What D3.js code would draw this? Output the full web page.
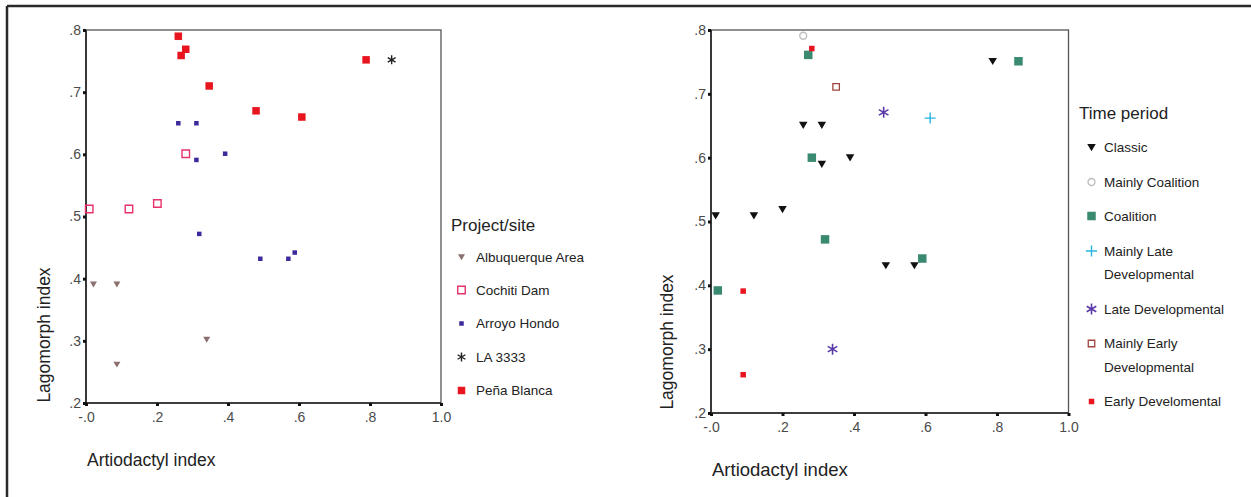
<!DOCTYPE html>
<html>
<head>
<meta charset="utf-8">
<script src="https://cdn.jsdelivr.net/npm/d3@7"></script>
<style>
  body { margin: 0; background: #fff; }
  svg { display: block; font-family: "Liberation Sans", Arial, sans-serif; }
</style>
</head>
<body>
<div id="chart"></div>
<script>
// ---- data: left panel (Project/site) ----
const siteNames = ['Albuquerque Area', 'Cochiti Dam', 'Arroyo Hondo', 'LA 3333', 'Peña Blanca'];
const albuquerque = [[0.021, 0.391], [0.087, 0.391], [0.340, 0.302], [0.087, 0.262]];
const cochiti = [[0.281, 0.601], [0.009, 0.512], [0.121, 0.512], [0.201, 0.521]];
const arroyoHondo = [[0.26, 0.65], [0.311, 0.65], [0.392, 0.601], [0.311, 0.591], [0.319, 0.472],
  [0.491, 0.432], [0.570, 0.432], [0.588, 0.442]];
const la3333 = [[0.861, 0.752]];
const penaBlanca = [[0.26, 0.79], [0.281, 0.769], [0.268, 0.759], [0.347, 0.710], [0.479, 0.670],
  [0.608, 0.660], [0.789, 0.752]];

// ---- data: right panel (Time period) ----
const periodNames = ['Classic', 'Mainly Coalition', 'Coalition', 'Mainly Late\nDevelopmental',
  'Late Developmental', 'Mainly Early\nDevelopmental', 'Early Develomental'];
const classic = [[0.788, 0.751], [0.258, 0.651], [0.310, 0.651], [0.389, 0.600], [0.310, 0.590],
  [0.013, 0.509], [0.120, 0.509], [0.200, 0.519], [0.489, 0.431], [0.569, 0.431]];
const mainlyCoalition = [[0.258, 0.791]];
const coalition = [[0.272, 0.761], [0.860, 0.751], [0.282, 0.600], [0.319, 0.472], [0.591, 0.442], [0.019, 0.392]];
const mainlyLateDev = [[0.613, 0.662]];
const lateDev = [[0.483, 0.671], [0.340, 0.300]];
const mainlyEarlyDev = [[0.350, 0.711]];
const earlyDev = [[0.282, 0.771], [0.090, 0.391], [0.090, 0.260]];

const xTicks = [0, 0.2, 0.4, 0.6, 0.8, 1.0];
const xTickLabels = ['-.0', '.2', '.4', '.6', '.8', '1.0'];
const yTicks = [0.2, 0.3, 0.4, 0.5, 0.6, 0.7, 0.8];
const yTickLabels = ['.2', '.3', '.4', '.5', '.6', '.7', '.8'];

// marker styles (kept apart from the values)
const siteStyle = [
  { shape: 'tri', size: 7, fill: '#8c6f6f', stroke: 'none' },
  { shape: 'square', size: 7.5, fill: 'none', stroke: '#e8326a', sw: 1.4 },
  { shape: 'square', size: 4.5, fill: '#3b2a9e', stroke: 'none' },
  { shape: 'asterisk', size: 9, fill: 'none', stroke: '#222', sw: 1.4 },
  { shape: 'square', size: 7.5, fill: '#e8141e', stroke: 'none' }
];
const periodStyle = [
  { shape: 'tri', size: 8.5, fill: '#111', stroke: 'none' },
  { shape: 'circle', size: 7, fill: 'none', stroke: '#bdbdbd', sw: 1.3 },
  { shape: 'square', size: 8.5, fill: '#3a8a72', stroke: 'none' },
  { shape: 'plus', size: 11, fill: 'none', stroke: '#28b4e0', sw: 1.4 },
  { shape: 'asterisk', size: 11, fill: 'none', stroke: '#5a3aa8', sw: 1.6 },
  { shape: 'square', size: 6.5, fill: 'none', stroke: '#a0463c', sw: 1.3 },
  { shape: 'square', size: 5.5, fill: '#e8141e', stroke: 'none' }
];

const W = 1251, H = 497;
const svg = d3.select('#chart').append('svg').attr('width', W).attr('height', H);

// outer frame (top + left edges only)
svg.append('line').attr('x1', 7).attr('x2', W).attr('y1', 6).attr('y2', 6)
  .attr('stroke', '#2a2a2a').attr('stroke-width', 2.5);
svg.append('line').attr('x1', 7).attr('x2', 7).attr('y1', 6).attr('y2', H)
  .attr('stroke', '#2a2a2a').attr('stroke-width', 2.5);

function markPath(st) {
  const s = st.size, h = s / 2;
  if (st.shape === 'square') return `M${-h},${-h}H${h}V${h}H${-h}Z`;
  if (st.shape === 'tri') return `M${-h},${-h * 0.8}H${h}L0,${h * 0.9}Z`;
  if (st.shape === 'circle') return d3.symbol(d3.symbolCircle, s * s * 0.785)();
  if (st.shape === 'plus') return `M${-h},0H${h}M0,${-h}V${h}`;
  if (st.shape === 'asterisk') {
    const a = h * 0.87, b = h * 0.5;
    return `M0,${-h}V${h}M${-a},${-b}L${a},${b}M${-a},${b}L${a},${-b}`;
  }
}

function drawMark(g, st, x, y) {
  g.append('path').attr('d', markPath(st))
    .attr('transform', `translate(${x},${y})`)
    .attr('fill', st.fill).attr('stroke', st.stroke)
    .attr('stroke-width', st.sw || 0);
}

function panel(cfg) {
  const x = d3.scaleLinear().domain([0, 1]).range([cfg.x0, cfg.x1]);
  const y = d3.scaleLinear().domain([0.2, 0.8]).range([cfg.y1, cfg.y0]);
  const g = svg.append('g');

  // plot frame
  g.append('rect').attr('x', cfg.x0).attr('y', cfg.y0)
    .attr('width', cfg.x1 - cfg.x0).attr('height', cfg.y1 - cfg.y0)
    .attr('fill', 'none').attr('stroke', '#555').attr('stroke-width', 1.3);
  g.append('line').attr('x1', cfg.x0).attr('x2', cfg.x0).attr('y1', cfg.y0).attr('y2', cfg.y1)
    .attr('stroke', '#222').attr('stroke-width', 1.6);
  g.append('line').attr('x1', cfg.x0).attr('x2', cfg.x1).attr('y1', cfg.y1).attr('y2', cfg.y1)
    .attr('stroke', '#222').attr('stroke-width', 1.6);

  const xAxis = d3.axisBottom(x).tickValues(xTicks).tickSize(3)
    .tickFormat((d, i) => xTickLabels[i]);
  const yAxis = d3.axisLeft(y).tickValues(yTicks).tickSize(3)
    .tickFormat((d, i) => yTickLabels[i]);

  const gx = g.append('g').attr('transform', `translate(0,${cfg.y1})`).call(xAxis);
  const gy = g.append('g').attr('transform', `translate(${cfg.x0},0)`).call(yAxis);
  [gx, gy].forEach(a => {
    a.select('.domain').remove();
    a.selectAll('.tick line').attr('stroke', '#111').attr('stroke-width', 3);
    a.selectAll('.tick text').attr('fill', '#4a4a4a').style('font-size', '14px')
      .style('font-family', '"Liberation Sans", Arial, sans-serif');
  });
  gx.selectAll('.tick text').attr('dy', '0.9em');
  gy.selectAll('.tick text').attr('x', -5);

  // axis titles
  g.append('text').attr('x', cfg.x0 + 1).attr('y', cfg.xTitleY)
    .style('font-size', cfg.xTitleSize + 'px').attr('fill', '#222')
    .text('Artiodactyl index');
  g.append('text')
    .attr('transform', `translate(${cfg.yTitleX},${cfg.yTitleCY}) rotate(-90)`)
    .attr('text-anchor', 'middle')
    .style('font-size', cfg.yTitleSize + 'px').attr('fill', '#222')
    .text('Lagomorph index');

  // points
  cfg.series.forEach((pts, k) => {
    const sg = g.append('g');
    pts.forEach(p => drawMark(sg, cfg.styles[k], x(p[0]), y(p[1])));
  });

  // legend
  const lg = g.append('g');
  lg.append('text').attr('x', cfg.legX).attr('y', cfg.legTitleY)
    .style('font-size', '17px').attr('fill', '#222').text(cfg.legTitle);
  cfg.names.forEach((name, k) => {
    const yy = cfg.legY[k];
    drawMark(lg, cfg.styles[k], cfg.legX + cfg.symDx, yy);
    const lines = name.split('\n');
    lines.forEach((ln, j) => {
      lg.append('text').attr('x', cfg.legX + cfg.textDx).attr('y', yy + j * 23.5)
        .attr('dy', '0.35em').style('font-size', '13.5px').attr('fill', '#222').text(ln);
    });
  });
}

panel({
  x0: 86, x1: 441, y0: 30, y1: 403,
  xTitleY: 466, yTitleX: 50, yTitleCY: 335, xTitleSize: 17.5, yTitleSize: 17.5,
  series: [albuquerque, cochiti, arroyoHondo, la3333, penaBlanca],
  styles: siteStyle, names: siteNames, legTitle: 'Project/site',
  legX: 451, legTitleY: 231, symDx: 10.5, textDx: 25,
  legY: [257, 290, 323.5, 357, 390.5]
});

panel({
  x0: 711, x1: 1068.5, y0: 30, y1: 413,
  xTitleY: 476, yTitleX: 673, yTitleCY: 342, xTitleSize: 18.5, yTitleSize: 17.5,
  series: [classic, mainlyCoalition, coalition, mainlyLateDev, lateDev, mainlyEarlyDev, earlyDev],
  styles: periodStyle, names: periodNames, legTitle: 'Time period',
  legX: 1079, legTitleY: 119, symDx: 12.5, textDx: 25,
  legY: [147.5, 182, 216, 251, 309, 343.5, 401.5]
});
</script>
</body>
</html>
